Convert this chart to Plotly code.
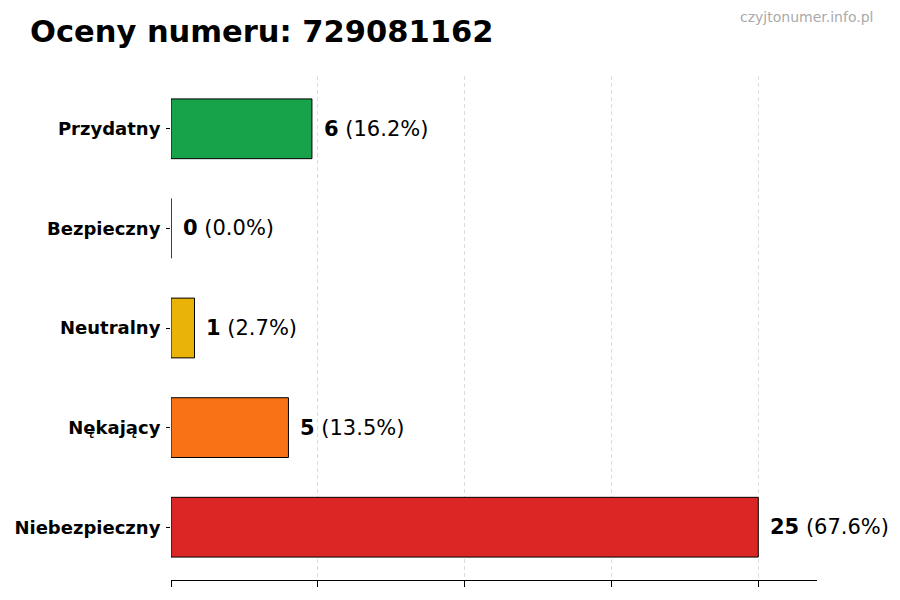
import plotly.graph_objects as go

categories = ["Niebezpieczny", "Nękający", "Neutralny", "Bezpieczny", "Przydatny"]
counts = [25, 5, 1, 0, 6]
colors = ["#dc2626", "#f97316", "#eab308", "#2563eb", "#16a34a"]
grid_ticks = [0, 6.25, 12.5, 18.75, 25]
phone = "729081162"

total = sum(counts)

fig = go.Figure(go.Bar(
    x=counts,
    y=categories,
    orientation="h",
    width=0.6,
    marker=dict(color=colors, line=dict(color="black", width=1)),
    hoverinfo="skip",
))

# labels next to bars: bold count + percentage
for cat, n in zip(categories, counts):
    pct = 100.0 * n / total
    fig.add_annotation(
        x=n, y=cat, xref="x", yref="y",
        text="<b>%d</b> (%.1f%%)" % (n, pct),
        showarrow=False, xanchor="left", xshift=10,
        font=dict(family="DejaVu Sans", size=21, color="black"),
    )

fig.add_annotation(
    x=-0.222, y=1.089, xref="paper", yref="paper",
    text="<b>Oceny numeru: %s</b>" % phone,
    showarrow=False, xanchor="left", yanchor="middle",
    font=dict(family="DejaVu Sans", size=30.5, color="black"),
)
fig.add_annotation(
    x=1.090, y=1.117, xref="paper", yref="paper",
    text="czyjtonumer.info.pl",
    showarrow=False, xanchor="right", yanchor="middle",
    font=dict(family="DejaVu Sans", size=14, color="#aaaaaa"),
)

fig.update_layout(
    width=900, height=600,
    margin=dict(l=163, r=91, t=68, b=28),
    plot_bgcolor="white", paper_bgcolor="white",
    showlegend=False,
    font=dict(family="DejaVu Sans", color="black"),
)
fig.update_xaxes(
    range=[0, 27.5], tickvals=grid_ticks, showticklabels=False,
    showgrid=True, gridcolor="#dddddd", griddash="4px,3px", gridwidth=1,
    ticks="outside", ticklen=6, tickcolor="black",
    showline=True, linecolor="black", linewidth=1, zeroline=False,
    automargin=False,
)
fig.update_yaxes(
    range=[-0.53, 4.53], showgrid=False, showline=False, zeroline=False,
    ticks="outside", ticklen=4, tickcolor="black",
    tickfont=dict(family="DejaVu Sans", size=18, color="black"),
    ticklabelstandoff=2,
    tickvals=categories,
    ticktext=["<b>%s</b>" % c for c in categories],
    automargin=False,
)

fig.write_html("out.html")
